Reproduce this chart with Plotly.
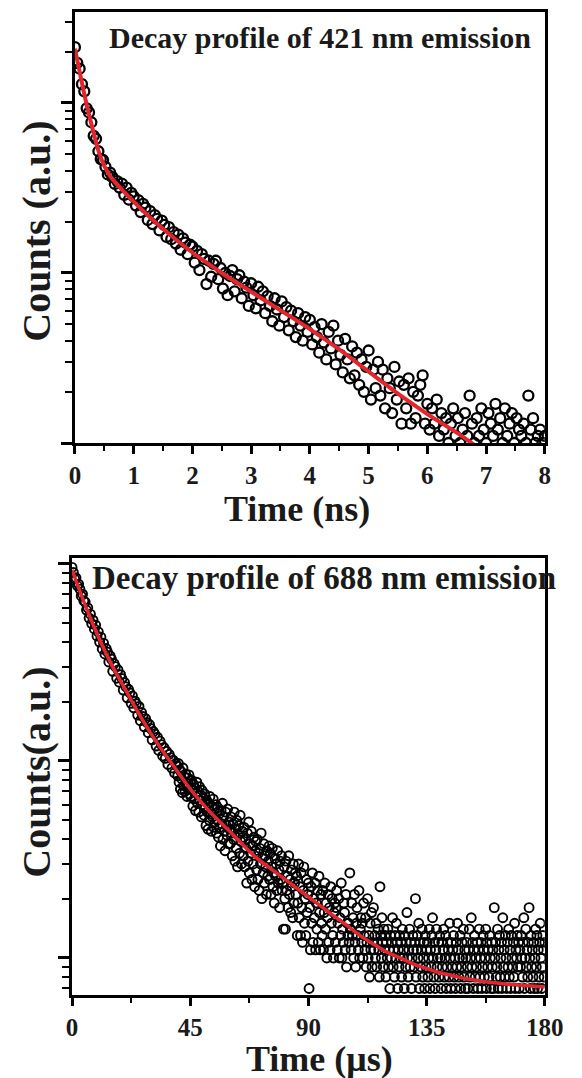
import plotly.graph_objects as go

# ---------------- Top panel: 421 nm emission (time in ns) ----------------
time_ns = [
    0.00, 0.04, 0.08, 0.12, 0.16, 0.20, 0.24, 0.28, 0.32, 0.36,
    0.40, 0.44, 0.48, 0.52, 0.56, 0.60, 0.64, 0.68, 0.72, 0.76,
    0.80, 0.84, 0.88, 0.92, 0.96, 1.00, 1.04, 1.08, 1.12, 1.16,
    1.20, 1.24, 1.28, 1.32, 1.36, 1.40, 1.44, 1.48, 1.52, 1.56,
    1.60, 1.64, 1.68, 1.72, 1.76, 1.80, 1.84, 1.88, 1.92, 1.96,
    2.00, 2.04, 2.08, 2.12, 2.16, 2.20, 2.24, 2.28, 2.32, 2.36,
    2.40, 2.44, 2.48, 2.52, 2.56, 2.60, 2.64, 2.68, 2.72, 2.76,
    2.80, 2.84, 2.88, 2.92, 2.96, 3.00, 3.04, 3.08, 3.12, 3.16,
    3.20, 3.24, 3.28, 3.32, 3.36, 3.40, 3.44, 3.48, 3.52, 3.56,
    3.60, 3.64, 3.68, 3.72, 3.76, 3.80, 3.84, 3.88, 3.92, 3.96,
    4.00, 4.04, 4.08, 4.12, 4.16, 4.20, 4.24, 4.28, 4.32, 4.36,
    4.40, 4.44, 4.48, 4.52, 4.56, 4.60, 4.64, 4.68, 4.72, 4.76,
    4.80, 4.84, 4.88, 4.92, 4.96, 5.00, 5.04, 5.08, 5.12, 5.16,
    5.20, 5.24, 5.28, 5.32, 5.36, 5.40, 5.44, 5.48, 5.52, 5.56,
    5.60, 5.64, 5.68, 5.72, 5.76, 5.80, 5.84, 5.88, 5.92, 5.96,
    6.00, 6.04, 6.08, 6.12, 6.16, 6.20, 6.24, 6.28, 6.32, 6.36,
    6.40, 6.44, 6.48, 6.52, 6.56, 6.60, 6.64, 6.68, 6.72, 6.76,
    6.80, 6.84, 6.88, 6.92, 6.96, 7.00, 7.04, 7.08, 7.12, 7.16,
    7.20, 7.24, 7.28, 7.32, 7.36, 7.40, 7.44, 7.48, 7.52, 7.56,
    7.60, 7.64, 7.68, 7.72, 7.76, 7.80, 7.84, 7.88, 7.92, 7.96,
    8.00,
]
counts_421 = [
    2130, 1720, 1590, 1290, 1170, 930, 880, 770, 640, 615,
    520, 468, 462, 421, 380, 389, 366, 334, 347, 318,
    335, 288, 318, 270, 296, 282, 249, 268, 228, 255,
    242, 205, 231, 194, 219, 208, 178, 203, 192, 163,
    186, 158, 174, 149, 168, 137, 160, 151, 129, 147,
    143, 115, 135, 104, 129, 121, 86, 118, 95, 113,
    118, 92, 107, 81, 100, 74, 96, 104, 78, 92,
    97, 71, 89, 82, 64, 87, 74, 62, 83, 69,
    78, 58, 73, 64, 52, 71, 61, 49, 68, 55,
    63, 46, 60, 52, 42, 58, 49, 40, 55, 45,
    53, 38, 48, 42, 34, 50, 39, 31, 45, 36,
    49, 29, 40, 33, 26, 41, 31, 24, 37, 25,
    34, 22, 31, 20, 28, 35, 18, 27, 21, 30,
    19, 27, 16, 24, 21, 15, 28, 18, 23, 13,
    22, 16, 24, 13, 20, 14, 19, 22, 25, 13,
    17, 12, 16, 13, 18, 11, 15, 12, 14, 10,
    13, 16, 11, 14, 10, 12, 15, 11, 19, 13,
    10, 14, 11, 16, 12, 10, 15, 13, 11, 17,
    12, 14, 10, 16, 11, 13, 15, 10, 14, 12,
    11, 13, 10, 19, 12, 14, 10, 11, 12, 10,
    11,
]
fit_time_ns = [0.0, 0.1, 0.2, 0.3, 0.4, 0.5, 0.6, 0.8, 1.0, 1.3, 1.6, 2.0,
               2.5, 3.0, 3.5, 4.0, 4.5, 5.0, 5.5, 6.0, 6.5, 7.0]
fit_421 = [2089, 1413, 977, 708, 525, 427, 372, 309, 263, 209, 170, 132,
           100, 77.6, 60.3, 46.8, 35.5, 26.3, 19.5, 14.8, 11.5, 8.7]

# ---------------- Bottom panel: 688 nm emission (time in us) ----------------
time_us = [
    0.0, 0.5, 1.0, 1.5, 2.0, 2.5, 3.0, 3.5, 4.0, 4.5,
    5.0, 5.5, 6.0, 6.5, 7.0, 7.5, 8.0, 8.5, 9.0, 9.5,
    10.0, 10.5, 11.0, 11.5, 12.0, 12.5, 13.0, 13.5, 14.0, 14.5,
    15.0, 15.5, 16.0, 16.5, 17.0, 17.5, 18.0, 18.5, 19.0, 19.5,
    20.0, 20.5, 21.0, 21.5, 22.0, 22.5, 23.0, 23.5, 24.0, 24.5,
    25.0, 25.5, 26.0, 26.5, 27.0, 27.5, 28.0, 28.5, 29.0, 29.5,
    30.0, 30.5, 31.0, 31.5, 32.0, 32.5, 33.0, 33.5, 34.0, 34.5,
    35.0, 35.5, 36.0, 36.5, 37.0, 37.5, 38.0, 38.5, 39.0, 39.5,
    40.0,
    40.25, 40.5, 40.75, 41.0, 41.25, 41.5, 41.75, 42.0, 42.25, 42.5,
    42.75, 43.0, 43.25, 43.5, 43.75, 44.0, 44.25, 44.5, 44.75, 45.0,
    45.25, 45.5, 45.75, 46.0, 46.25, 46.5, 46.75, 47.0, 47.25, 47.5,
    47.75, 48.0, 48.25, 48.5, 48.75, 49.0, 49.25, 49.5, 49.75, 50.0,
    50.25, 50.5, 50.75, 51.0, 51.25, 51.5, 51.75, 52.0, 52.25, 52.5,
    52.75, 53.0, 53.25, 53.5, 53.75, 54.0, 54.25, 54.5, 54.75, 55.0,
    55.25, 55.5, 55.75, 56.0, 56.25, 56.5, 56.75, 57.0, 57.25, 57.5,
    57.75, 58.0, 58.25, 58.5, 58.75, 59.0, 59.25, 59.5, 59.75, 60.0,
    60.25, 60.5, 60.75, 61.0, 61.25, 61.5, 61.75, 62.0, 62.25, 62.5,
    62.75, 63.0, 63.25, 63.5, 63.75, 64.0, 64.25, 64.5, 64.75, 65.0,
    65.25, 65.5, 65.75, 66.0, 66.25, 66.5, 66.75, 67.0, 67.25, 67.5,
    67.75, 68.0, 68.25, 68.5, 68.75, 69.0, 69.25, 69.5, 69.75, 70.0,
    70.25, 70.5, 70.75, 71.0, 71.25, 71.5, 71.75, 72.0, 72.25, 72.5,
    72.75, 73.0, 73.25, 73.5, 73.75, 74.0, 74.25, 74.5, 74.75, 75.0,
    75.25, 75.5, 75.75, 76.0, 76.25, 76.5, 76.75, 77.0, 77.25, 77.5,
    77.75, 78.0, 78.25, 78.5, 78.75, 79.0, 79.25, 79.5, 79.75, 80.0,
    80.25, 80.5, 80.75, 81.0, 81.25, 81.5, 81.75, 82.0, 82.25, 82.5,
    82.75, 83.0, 83.25, 83.5, 83.75, 84.0, 84.25, 84.5, 84.75, 85.0,
    85.25, 85.5, 85.75, 86.0, 86.25, 86.5, 86.75, 87.0, 87.25, 87.5,
    87.75, 88.0, 88.25, 88.5, 88.75, 89.0, 89.25, 89.5, 89.75, 90.0,
    90.25, 90.5, 90.75, 91.0, 91.25, 91.5, 91.75, 92.0, 92.25, 92.5,
    92.75, 93.0, 93.25, 93.5, 93.75, 94.0, 94.25, 94.5, 94.75, 95.0,
    95.25, 95.5, 95.75, 96.0, 96.25, 96.5, 96.75, 97.0, 97.25, 97.5,
    97.75, 98.0, 98.25, 98.5, 98.75, 99.0, 99.25, 99.5, 99.75, 100.0,
    100.25, 100.5, 100.75, 101.0, 101.25, 101.5, 101.75, 102.0, 102.25, 102.5,
    102.75, 103.0, 103.25, 103.5, 103.75, 104.0, 104.25, 104.5, 104.75, 105.0,
    105.25, 105.5, 105.75, 106.0, 106.25, 106.5, 106.75, 107.0, 107.25, 107.5,
    107.75, 108.0, 108.25, 108.5, 108.75, 109.0, 109.25, 109.5, 109.75, 110.0,
    110.25, 110.5, 110.75, 111.0, 111.25, 111.5, 111.75, 112.0, 112.25, 112.5,
    112.75, 113.0, 113.25, 113.5, 113.75, 114.0, 114.25, 114.5, 114.75, 115.0,
    115.25, 115.5, 115.75, 116.0, 116.25, 116.5, 116.75, 117.0, 117.25, 117.5,
    117.75, 118.0, 118.25, 118.5, 118.75, 119.0, 119.25, 119.5, 119.75, 120.0,
    120.25, 120.5, 120.75, 121.0, 121.25, 121.5, 121.75, 122.0, 122.25, 122.5,
    122.75, 123.0, 123.25, 123.5, 123.75, 124.0, 124.25, 124.5, 124.75, 125.0,
    125.25, 125.5, 125.75, 126.0, 126.25, 126.5, 126.75, 127.0, 127.25, 127.5,
    127.75, 128.0, 128.25, 128.5, 128.75, 129.0, 129.25, 129.5, 129.75, 130.0,
    130.25, 130.5, 130.75, 131.0, 131.25, 131.5, 131.75, 132.0, 132.25, 132.5,
    132.75, 133.0, 133.25, 133.5, 133.75, 134.0, 134.25, 134.5, 134.75, 135.0,
    135.25, 135.5, 135.75, 136.0, 136.25, 136.5, 136.75, 137.0, 137.25, 137.5,
    137.75, 138.0, 138.25, 138.5, 138.75, 139.0, 139.25, 139.5, 139.75, 140.0,
    140.25, 140.5, 140.75, 141.0, 141.25, 141.5, 141.75, 142.0, 142.25, 142.5,
    142.75, 143.0, 143.25, 143.5, 143.75, 144.0, 144.25, 144.5, 144.75, 145.0,
    145.25, 145.5, 145.75, 146.0, 146.25, 146.5, 146.75, 147.0, 147.25, 147.5,
    147.75, 148.0, 148.25, 148.5, 148.75, 149.0, 149.25, 149.5, 149.75, 150.0,
    150.25, 150.5, 150.75, 151.0, 151.25, 151.5, 151.75, 152.0, 152.25, 152.5,
    152.75, 153.0, 153.25, 153.5, 153.75, 154.0, 154.25, 154.5, 154.75, 155.0,
    155.25, 155.5, 155.75, 156.0, 156.25, 156.5, 156.75, 157.0, 157.25, 157.5,
    157.75, 158.0, 158.25, 158.5, 158.75, 159.0, 159.25, 159.5, 159.75, 160.0,
    160.25, 160.5, 160.75, 161.0, 161.25, 161.5, 161.75, 162.0, 162.25, 162.5,
    162.75, 163.0, 163.25, 163.5, 163.75, 164.0, 164.25, 164.5, 164.75, 165.0,
    165.25, 165.5, 165.75, 166.0, 166.25, 166.5, 166.75, 167.0, 167.25, 167.5,
    167.75, 168.0, 168.25, 168.5, 168.75, 169.0, 169.25, 169.5, 169.75, 170.0,
    170.25, 170.5, 170.75, 171.0, 171.25, 171.5, 171.75, 172.0, 172.25, 172.5,
    172.75, 173.0, 173.25, 173.5, 173.75, 174.0, 174.25, 174.5, 174.75, 175.0,
    175.25, 175.5, 175.75, 176.0, 176.25, 176.5, 176.75, 177.0, 177.25, 177.5,
    177.75, 178.0, 178.25, 178.5, 178.75, 179.0, 179.25, 179.5, 179.75, 180.0,
]
counts_688 = [
    960, 905, 840, 850, 776, 790, 745, 688, 702, 650,
    640, 583, 598, 531, 556, 497, 518, 468, 489, 431,
    452, 401, 425, 370, 396, 349, 372, 357, 318, 341,
    329, 285, 312, 301, 263, 290, 251, 274, 262, 229,
    250, 238, 209, 231, 222, 196, 214, 186, 201, 195,
    171, 189, 160, 176, 168, 149, 164, 157, 139, 153,
    146, 128, 141, 137, 119, 132, 113, 126, 121, 106,
    117, 103, 112, 96, 108, 104, 92, 101, 87, 97,
    94,
    84, 97, 78, 90, 72, 88, 81, 69, 92, 75, 83, 70, 86, 77, 66, 82, 74, 85, 68, 79,
    66, 80, 71, 59, 76, 64, 73, 56, 69, 78, 61, 70, 55, 74, 63, 67, 52, 71, 60, 65,
    53, 68, 58, 47, 63, 55, 45, 61, 50, 66, 54, 44, 59, 52, 64, 46, 57, 49, 60, 43,
    50, 58, 41, 54, 46, 37, 56, 48, 61, 40, 52, 44, 35, 55, 47, 42, 57, 38, 49, 45,
    38, 52, 43, 33, 48, 40, 55, 31, 45, 36, 50, 29, 42, 47, 34, 53, 39, 30, 44, 41,
    33, 46, 29, 40, 36, 24, 43, 31, 49, 27, 38, 34, 44, 25, 37, 30, 41, 23, 35, 39,
    28, 40, 25, 34, 22, 36, 30, 43, 20, 32, 27, 38, 24, 33, 29, 21, 35, 26, 31, 37,
    25, 34, 21, 29, 36, 23, 27, 19, 32, 26, 30, 22, 35, 24, 28, 18, 31, 25, 33, 22,
    24, 14, 29, 20, 14, 31, 22, 26, 18, 33, 21, 25, 17, 28, 23, 16, 30, 19, 24, 27,
    21, 26, 13, 19, 30, 16, 23, 13, 27, 18, 12, 22, 29, 15, 20, 13, 25, 17, 21, 24,
    7, 18, 11, 23, 15, 27, 12, 20, 16, 24, 11, 19, 14, 22, 12, 26, 17, 11, 21, 15,
    13, 22, 11, 17, 24, 14, 19, 10, 16, 21, 12, 18, 11, 23, 15, 20, 13, 10, 17, 19,
    12, 18, 22, 11, 15, 20, 10, 16, 13, 24, 10, 14, 12, 19, 17, 11, 21, 9, 15, 13,
    15, 12, 27, 14, 11, 19, 13, 16, 10, 21, 12, 9, 15, 18, 13, 11, 22, 10, 14, 16,
    12, 15, 10, 19, 13, 11, 16, 9, 12, 20, 10, 13, 8, 15, 11, 17, 9, 12, 18, 11,
    13, 10, 15, 9, 12, 14, 11, 8, 23, 13, 10, 16, 12, 9, 14, 11, 13, 8, 12, 10,
    14, 9, 11, 7, 13, 10, 12, 16, 9, 11, 8, 13, 10, 15, 12, 7, 11, 9, 13, 10,
    12, 8, 14, 10, 11, 7, 13, 9, 12, 17, 10, 8, 11, 14, 9, 12, 7, 10, 13, 11,
    9, 12, 20, 8, 11, 13, 10, 15, 7, 12, 9, 11, 14, 8, 10, 12, 7, 13, 9, 11,
    12, 8, 10, 14, 7, 11, 9, 13, 16, 10, 8, 12, 7, 11, 14, 9, 10, 12, 8, 13,
    10, 7, 12, 9, 11, 14, 8, 10, 13, 7, 9, 12, 11, 8, 15, 10, 7, 12, 9, 11,
    13, 8, 10, 7, 12, 9, 15, 11, 8, 10, 13, 7, 9, 12, 10, 14, 8, 11, 7, 10,
    12, 9, 7, 11, 14, 8, 10, 16, 9, 12, 7, 11, 13, 8, 10, 9, 12, 7, 11, 14,
    8, 10, 12, 7, 9, 13, 11, 8, 10, 14, 7, 12, 9, 11, 8, 13, 10, 7, 12, 9,
    11, 7, 18, 10, 12, 8, 9, 14, 7, 11, 13, 8, 10, 12, 7, 16, 9, 11, 8, 13,
    10, 7, 12, 9, 14, 8, 11, 7, 13, 10, 9, 12, 8, 15, 7, 11, 10, 13, 9, 12,
    7, 11, 9, 13, 10, 8, 12, 16, 7, 10, 14, 9, 11, 8, 12, 18, 10, 7, 13, 9,
    11, 8, 12, 7, 10, 14, 9, 13, 7, 11, 8, 12, 15, 10, 7, 9, 13, 11, 8, 12,
]
fit_time_us = [0, 5, 10, 15, 20, 25, 30, 35, 40, 45, 50, 55, 60, 65, 70, 75,
               80, 85, 90, 95, 100, 105, 110, 115, 120, 125, 130, 135, 140,
               145, 150, 155, 160, 165, 170, 175, 180]
fit_688 = [933, 617, 427, 309, 234, 178, 138, 110, 89, 72, 60, 51, 44, 37.6,
           32.4, 28.8, 25.7, 22.9, 20.4, 18.2, 16.2, 14.5, 12.9, 11.7, 10.7,
           10.0, 9.3, 8.85, 8.41, 8.13, 7.85, 7.67, 7.5, 7.38, 7.28, 7.2, 7.13]

# ---------------- Text ----------------
title_top = "Decay profile of 421 nm emission"
title_bottom = "Decay profile of 688 nm emission"
xlabel_top = "Time (ns)"
xlabel_bottom = "Time (μs)"
ylabel_top = "Counts (a.u.)"
ylabel_bottom = "Counts(a.u.)"

W, H = 582, 1078
SERIF = "Liberation Serif"
INK = "#1a1a1a"
RED = "#e3262e"


def px_x(p):
    return p / W


def px_y(p):
    return 1 - p / H


fig = go.Figure()

fig.add_trace(go.Scatter(
    x=time_ns, y=counts_421, mode="markers", xaxis="x", yaxis="y",
    marker=dict(symbol="circle-open", size=10, color="black", line=dict(width=2.3)),
    showlegend=False, hoverinfo="skip"))
fig.add_trace(go.Scatter(
    x=fit_time_ns, y=fit_421, mode="lines", xaxis="x", yaxis="y",
    line=dict(color=RED, width=4, shape="spline", smoothing=0.8),
    showlegend=False, hoverinfo="skip"))

fig.add_trace(go.Scatter(
    x=time_us, y=counts_688, mode="markers", xaxis="x2", yaxis="y2",
    marker=dict(symbol="circle-open", size=9, color="black", line=dict(width=1.9)),
    showlegend=False, hoverinfo="skip"))
fig.add_trace(go.Scatter(
    x=fit_time_us, y=fit_688, mode="lines", xaxis="x2", yaxis="y2",
    line=dict(color=RED, width=3.5, shape="spline", smoothing=0.8),
    showlegend=False, hoverinfo="skip"))

axis_common = dict(showline=True, linecolor="black", linewidth=3, mirror=True,
                   showgrid=False, zeroline=False, ticks="outside",
                   tickcolor="black")
tickfont = dict(family=SERIF, size=25, color=INK, weight="bold")

fig.update_layout(
    width=W, height=H,
    margin=dict(l=0, r=0, t=0, b=0),
    paper_bgcolor="white", plot_bgcolor="white",
    xaxis=dict(domain=[px_x(72), px_x(563)], anchor="y", range=[0, 8],
               tick0=0, dtick=1, ticklen=8, tickwidth=2.5,
               minor=dict(dtick=0.5, ticks="outside", ticklen=5, tickwidth=2,
                          tickcolor="black", showgrid=False),
               tickfont=tickfont, **axis_common),
    yaxis=dict(domain=[px_y(443), px_y(12)], anchor="x", type="log",
               range=[1, 3.535], dtick=1, ticklen=11, tickwidth=2.5,
               showticklabels=False,
               minor=dict(dtick="D1", ticks="outside", ticklen=7, tickwidth=2,
                          tickcolor="black", showgrid=False),
               **axis_common),
    xaxis2=dict(domain=[px_x(69), px_x(563)], anchor="y2", range=[0, 180],
                tick0=0, dtick=45, ticklen=8, tickwidth=2.5,
                minor=dict(dtick=22.5, ticks="outside", ticklen=5, tickwidth=2,
                           tickcolor="black", showgrid=False),
                tickfont=tickfont, **axis_common),
    yaxis2=dict(domain=[px_y(995), px_y(558)], anchor="x2", type="log",
                range=[0.812, 3.03], dtick=1, ticklen=11, tickwidth=2.5,
                showticklabels=False,
                minor=dict(dtick="D1", ticks="outside", ticklen=7, tickwidth=2,
                           tickcolor="black", showgrid=False),
                **axis_common),
)

annots = [
    dict(text=title_top, x=px_x(328), y=px_y(38), size=30),
    dict(text=title_bottom, x=px_x(332), y=px_y(578), size=33),
    dict(text=xlabel_top, x=px_x(304), y=px_y(509), size=36),
    dict(text=xlabel_bottom, x=px_x(328), y=px_y(1059), size=36),
    dict(text=ylabel_top, x=px_x(31), y=px_y(231), size=40, angle=-90),
    dict(text=ylabel_bottom, x=px_x(31), y=px_y(772), size=40, angle=-90),
]
for a in annots:
    fig.add_annotation(
        text=a["text"], x=a["x"], y=a["y"], xref="paper", yref="paper",
        xanchor="center", yanchor="middle", showarrow=False,
        textangle=a.get("angle", 0),
        font=dict(family=SERIF, size=a["size"], color=INK, weight="bold"))

fig.write_html("out.html")
